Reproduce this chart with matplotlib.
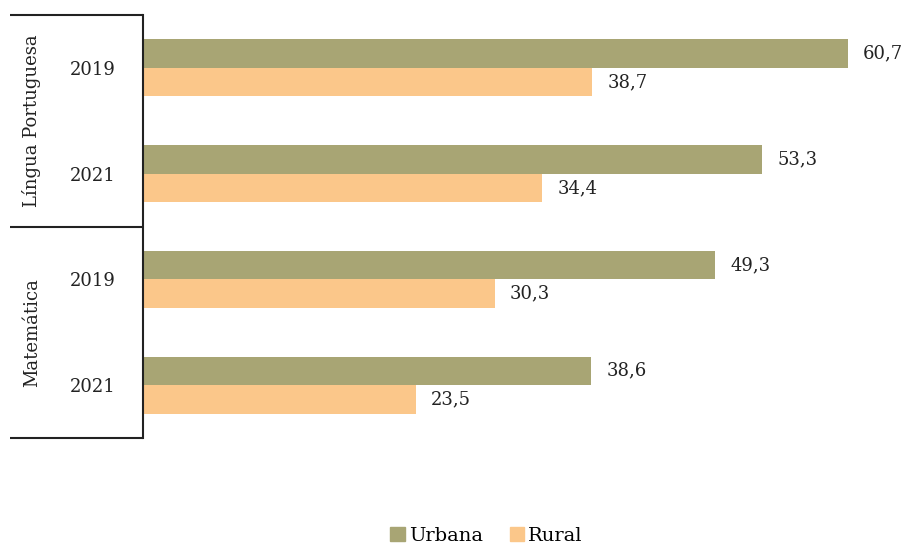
import matplotlib
matplotlib.use("Agg")
import matplotlib.pyplot as plt
from matplotlib.patches import Patch
import numpy as np

plt.rcParams['font.family'] = ['DejaVu Serif']

groups = ["Língua Portuguesa", "Matemática"]
years = ["2019", "2021", "2019", "2021"]
urbana = [60.7, 53.3, 49.3, 38.6]
rural = [38.7, 34.4, 30.3, 23.5]
series_names = ["Urbana", "Rural"]
colors = ["#A8A574", "#FBC78A"]

FS = 13
TC = "#222222"

fig = plt.figure(figsize=(9.06, 5.46), dpi=100)
ax = fig.add_axes([143/906, (546-438)/546, 763/906, 423/546])

pos = np.arange(len(years))
h = 0.27
ax.barh(pos - h/2, urbana, height=h, color=colors[0])
ax.barh(pos + h/2, rural, height=h, color=colors[1])

for p, u, r in zip(pos, urbana, rural):
    ax.annotate(f"{u:.1f}".replace(".", ","), (u, p - h/2), xytext=(11, 0),
                textcoords="offset points", va="center", ha="left", fontsize=FS, color=TC)
    ax.annotate(f"{r:.1f}".replace(".", ","), (r, p + h/2), xytext=(11, 0),
                textcoords="offset points", va="center", ha="left", fontsize=FS, color=TC)

ax.set_xlim(0, 763/11.61)
ax.set_ylim(3.5, -0.5)
ax.set_xticks([])
ax.set_yticks(pos, years, fontsize=FS, color=TC)
ax.tick_params(axis="y", length=0, pad=20)
for s in ["top", "right", "bottom"]:
    ax.spines[s].set_visible(False)
ax.spines["left"].set_linewidth(1.5)
ax.spines["left"].set_color(TC)

x0 = (10 - 143) / 763
for yy in [-0.5, 1.5, 3.5]:
    ax.plot([x0, 0], [yy, yy], transform=ax.get_yaxis_transform(), color=TC,
            lw=1.5, clip_on=False, solid_capstyle="butt")

xl = (32 - 143) / 763
ax.text(xl, 0.5, groups[0], transform=ax.get_yaxis_transform(), rotation=90,
        ha="center", va="center", fontsize=FS, color=TC)
ax.text(xl, 2.5, groups[1], transform=ax.get_yaxis_transform(), rotation=90,
        ha="center", va="center", fontsize=FS, color=TC)

handles = [Patch(color=c, label=n) for c, n in zip(colors, series_names)]
fig.legend(handles=handles, loc="center", bbox_to_anchor=(0.537, 10/546), ncol=2,
           frameon=False, fontsize=14, handlelength=0.75, handleheight=0.75,
           handletextpad=0.2, columnspacing=1.4, borderaxespad=0, borderpad=0)

fig.savefig("out.png", dpi=100)
